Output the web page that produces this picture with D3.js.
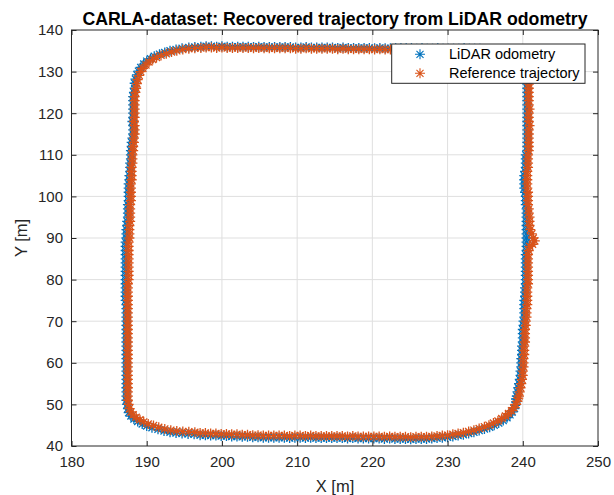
<!DOCTYPE html>
<html><head><meta charset="utf-8">
<script src="https://cdn.jsdelivr.net/npm/d3@7"></script>
<style>html,body{margin:0;padding:0;background:#fff;}svg{display:block;}</style>
</head><body>
<svg id="chart" width="614" height="495"></svg>
<script>
const titleText = "CARLA-dataset: Recovered trajectory from LiDAR odometry";
const xLabel = "X [m]";
const yLabel = "Y [m]";
const xTicks = [180,190,200,210,220,230,240,250];
const yTicks = [40,50,60,70,80,90,100,110,120,130,140];
const seriesNames = ["LiDAR odometry","Reference trajectory"];
const seriesColors = ["#0072BD","#D95319"];

const lidarPts = [
[240.5,88],[240.5,89],[240.5,90],[240.5,91],[240.5,92],[240.5,93],[240.5,94],[240.5,95],[240.5,96],[240.5,97],[240.4,98],[240.4,99],[240.4,100],[240.3,101],[240.2,102],[240.2,103],[240.2,104],[240.2,105],[240.3,106],[240.4,107],[240.4,108],[240.4,109],[240.4,110],[240.6,111],[240.6,112],[240.6,113],[240.6,114],[240.6,115],[240.6,116],[240.6,117],[240.6,118],[240.6,119],[240.6,120],[240.6,121],[240.6,122],[240.6,123],[240.6,124],[240.6,125],[240.6,126],[240.6,127],
[240.5,128],[240.4,129],[240.2,130],[239.9,131],[239.4,132],[238.8,133],[237.9,134],[236.9,134.8],[235.9,135.2],[234.9,135.4],
[234.3,135.5],[233.6,135.5],[232.9,135.5],[232.2,135.6],[231.5,135.5],[230.8,135.5],[230.1,135.5],[229.4,135.5],[228.7,135.6],[228.0,135.5],[227.3,135.5],[226.6,135.6],[225.9,135.5],[225.2,135.6],[224.5,135.6],[223.8,135.6],[223.1,135.6],[222.4,135.6],[221.7,135.6],[221.0,135.7],[220.3,135.6],[219.6,135.7],[218.9,135.7],[218.2,135.7],[217.5,135.7],[216.8,135.7],[216.1,135.8],[215.4,135.7],[214.7,135.8],[214.0,135.8],[213.3,135.8],[212.6,135.8],[211.9,135.8],[211.2,135.9],[210.5,135.8],[209.8,135.8],[209.1,135.9],[208.4,135.9],[207.7,135.9],[207.0,135.9],[206.3,135.9],[205.6,135.9],[204.9,136.0],[204.2,135.9],[203.5,136.0],[202.8,136.0],[202.1,136.0],[201.4,136.0],[200.7,136.0],[200.0,136.1],[199.3,136.0],[198.6,136.1],[197.9,136.1],
[197.2,136.0],[196.4,135.9],[195.6,135.8],[194.7,135.6],[193.9,135.3],[193.1,135.0],[192.4,134.6],[191.7,134.2],[191.0,133.7],[190.5,133.1],[190.0,132.5],[189.6,131.8],[189.2,131.0],[188.9,130.1],[188.7,129.2],[188.5,128.2],[188.4,127.2],
[188.4,126],[188.3,125],[188.2,124],[188.2,123],[188.2,122],[188.2,121],[188.2,120],[188.2,119],[188.1,118],[188.2,117],[188.2,116],[188.2,115],[188.1,114],[188.0,113],[188.0,112],[187.9,111],[187.9,110],[187.9,109],[187.8,108],[187.8,107],[187.8,106],[187.7,105],[187.7,104],[187.6,103],[187.6,102],[187.6,101],[187.6,100],[187.6,99],[187.5,98],[187.5,97],[187.5,96],[187.5,95],[187.4,94],[187.4,93],[187.3,92],[187.3,91],[187.3,90],[187.2,89],[187.2,88],[187.2,87],[187.2,86],[187.2,85],[187.2,84],[187.2,83],[187.2,82],[187.2,81],[187.2,80],[187.2,79],[187.2,78],[187.2,77],[187.2,76],[187.2,75],[187.3,74],[187.3,73],[187.3,72],[187.3,71],[187.3,70],[187.3,69],[187.3,68],[187.3,67],[187.3,66],[187.3,65],[187.3,64],[187.3,63],[187.3,62],[187.3,61],[187.3,60],[187.3,59],[187.3,58],[187.3,57],[187.3,56],[187.3,55],[187.3,54],[187.3,53],[187.3,52],[187.3,51],[187.4,50],[187.5,49],
[187.6,48.0],[187.9,47.2],[188.3,46.5],[188.8,45.9],[189.4,45.3],[190.0,44.8],[190.7,44.4],[191.5,44.0],[192.3,43.6],[193.1,43.3],[193.9,43.1],[194.7,43.0],[195.5,42.9],[196.3,42.8],
[197.1,42.6],[197.8,42.6],[198.5,42.5],[199.2,42.5],[199.9,42.4],[200.6,42.4],[201.3,42.3],[202.0,42.3],[202.7,42.2],[203.4,42.2],[204.1,42.1],[204.8,42.1],[205.5,42.0],[206.2,42.0],[206.9,42.0],[207.6,42.0],[208.3,42.0],[209.0,41.9],[209.7,42.0],[210.4,42.0],[211.1,41.9],[211.8,42.0],[212.5,41.9],[213.2,41.9],[213.9,41.9],[214.6,41.9],[215.3,41.9],[216.0,41.9],[216.7,41.8],[217.4,41.9],[218.1,41.8],[218.8,41.8],[219.5,41.8],[220.2,41.8],[220.9,41.8],[221.6,41.7],[222.3,41.8],[223.0,41.7],[223.7,41.7],[224.4,41.7],[225.1,41.6],[225.8,41.7],[226.5,41.7],[227.2,41.7],[227.9,41.8],[228.6,41.9],
[229.3,42.0],[230.0,42.1],[230.7,42.3],[231.4,42.5],[232.1,42.7],[232.8,43.0],[233.5,43.3],[234.2,43.7],[234.9,44.1],[235.6,44.5],[236.2,45.0],[236.8,45.5],[237.4,46.1],[237.9,46.8],[238.3,47.5],[238.6,48.2],[238.9,49.0],[239.0,49.8],[239.1,50.6],[239.1,51.3],
[239.2,52],[239.3,53],[239.4,54],[239.5,55],[239.6,56],[239.7,57],[239.7,58],[239.8,59],[239.8,60],[239.8,61],[239.9,62],[239.9,63],[239.9,64],[240.0,65],[240.0,66],[240.0,67],[240.0,68],[240.1,69],[240.1,70],[240.2,71],[240.2,72],[240.2,73],[240.2,74],[240.2,75],[240.3,76],[240.3,77],[240.3,78],[240.4,79],[240.4,80],[240.4,81],[240.4,82],[240.4,83],[240.4,84],[240.4,85],[240.4,86],[240.5,87]
];

const refPts = [
[241.3,88.5],[241.6,89.3],[241.4,90],[241.2,91],[241.0,92],[240.9,93],[240.9,94],[240.9,95],[240.8,96],[240.8,97],[240.7,98],[240.7,99],[240.7,100],[240.7,101],[240.6,102],[240.6,103],[240.6,104],[240.6,105],[240.6,106],[240.7,107],[240.7,108],[240.7,109],[240.7,110],[240.8,111],[240.8,112],[240.8,113],[240.8,114],[240.8,115],[240.8,116],[240.9,117],[240.8,118],[240.8,119],[240.8,120],[240.9,121],[240.8,122],[240.8,123],[240.8,124],[240.8,125],[240.8,126],[240.8,127],
[240.7,128],[240.6,129],[240.4,130],[240.1,131],[239.6,132],[238.9,133],[238.0,134],[237.0,134.6],[236.0,135.0],[235.0,135.2],
[234.3,135.2],[233.6,135.2],[232.9,135.2],[232.2,135.3],[231.5,135.2],[230.8,135.2],[230.1,135.2],[229.4,135.2],[228.7,135.3],[228.0,135.2],[227.3,135.2],[226.6,135.3],[225.9,135.2],[225.2,135.3],[224.5,135.3],[223.8,135.3],[223.1,135.3],[222.4,135.3],[221.7,135.3],[221.0,135.4],[220.3,135.3],[219.6,135.4],[218.9,135.4],[218.2,135.4],[217.5,135.4],[216.8,135.4],[216.1,135.5],[215.4,135.4],[214.7,135.5],[214.0,135.5],[213.3,135.5],[212.6,135.5],[211.9,135.5],[211.2,135.6],[210.5,135.5],[209.8,135.5],[209.1,135.6],[208.4,135.6],[207.7,135.6],[207.0,135.6],[206.3,135.6],[205.6,135.6],[204.9,135.7],[204.2,135.6],[203.5,135.7],[202.8,135.7],[202.1,135.7],[201.4,135.7],[200.7,135.7],[200.0,135.8],[199.3,135.7],[198.6,135.8],[197.9,135.8],
[197.2,135.7],[196.4,135.6],[195.6,135.5],[194.8,135.3],[194.0,135.0],[193.3,134.7],[192.6,134.3],[191.9,133.9],[191.3,133.4],[190.8,132.9],[190.3,132.3],[189.9,131.6],[189.5,130.8],[189.2,130.0],[189.0,129.1],[188.8,128.1],[188.7,127.1],
[188.6,126],[188.5,125],[188.4,124],[188.4,123],[188.4,122],[188.4,121],[188.4,120],[188.4,119],[188.3,118],[188.4,117],[188.4,116],[188.4,115],[188.3,114],[188.3,113],[188.2,112],[188.2,111],[188.1,110],[188.1,109],[188.1,108],[188.0,107],[188.0,106],[188.0,105],[188.0,104],[187.9,103],[187.9,102],[187.9,101],[187.9,100],[187.9,99],[187.8,98],[187.8,97],[187.8,96],[187.8,95],[187.8,94],[187.7,93],[187.7,92],[187.7,91],[187.7,90],[187.6,89],[187.6,88],[187.6,87],[187.6,86],[187.6,85],[187.6,84],[187.6,83],[187.6,82],[187.6,81],[187.6,80],[187.5,79],[187.5,78],[187.5,77],[187.5,76],[187.5,75],[187.5,74],[187.5,73],[187.5,72],[187.5,71],[187.5,70],[187.5,69],[187.5,68],[187.5,67],[187.5,66],[187.5,65],[187.5,64],[187.5,63],[187.5,62],[187.5,61],[187.5,60],[187.5,59],[187.5,58],[187.5,57],[187.5,56],[187.5,55],[187.5,54],[187.5,53],[187.5,52],[187.5,51],[187.6,50],[187.7,49],
[187.9,48.2],[188.2,47.5],[188.6,46.9],[189.1,46.3],[189.6,45.8],[190.2,45.3],[190.9,44.9],[191.6,44.5],[192.4,44.1],[193.2,43.8],[194.0,43.6],[194.8,43.5],[195.6,43.4],[196.4,43.3],
[197.1,43.1],[197.8,43.1],[198.5,43.0],[199.2,43.0],[199.9,42.9],[200.6,42.9],[201.3,42.8],[202.0,42.8],[202.7,42.7],[203.4,42.7],[204.1,42.6],[204.8,42.6],[205.5,42.5],[206.2,42.5],[206.9,42.5],[207.6,42.5],[208.3,42.5],[209.0,42.4],[209.7,42.5],[210.4,42.5],[211.1,42.4],[211.8,42.5],[212.5,42.4],[213.2,42.4],[213.9,42.4],[214.6,42.4],[215.3,42.4],[216.0,42.4],[216.7,42.3],[217.4,42.4],[218.1,42.3],[218.8,42.3],[219.5,42.3],[220.2,42.3],[220.9,42.3],[221.6,42.2],[222.3,42.3],[223.0,42.2],[223.7,42.2],[224.4,42.2],[225.1,42.1],[225.8,42.2],[226.5,42.2],[227.2,42.2],[227.9,42.3],[228.6,42.4],
[229.3,42.5],[230.0,42.6],[230.7,42.8],[231.4,43.0],[232.1,43.2],[232.8,43.5],[233.5,43.8],[234.2,44.2],[234.9,44.6],[235.5,45.0],[236.1,45.5],[236.7,46.0],[237.2,46.6],[237.7,47.2],[238.1,47.8],[238.5,48.5],[238.8,49.2],[239.1,50.0],[239.3,50.8],[239.4,51.5],
[239.5,52],[239.6,53],[239.7,54],[239.8,55],[239.9,56],[240.0,57],[240.0,58],[240.1,59],[240.1,60],[240.1,61],[240.2,62],[240.2,63],[240.2,64],[240.3,65],[240.3,66],[240.3,67],[240.3,68],[240.4,69],[240.4,70],[240.5,71],[240.5,72],[240.5,73],[240.6,74],[240.6,75],[240.6,76],[240.6,77],[240.6,78],[240.7,79],[240.7,80],[240.7,81],[240.7,82],[240.7,83],[240.7,84],[240.7,85],[240.7,86],[240.8,87],[240.9,88]
];

const svg = d3.select("#chart");
const L = 71.5, R = 598, T = 30, B = 446;
const x = d3.scaleLinear().domain([180,250]).range([L,R]);
const y = d3.scaleLinear().domain([40,140]).range([B,T]);
const axisColor = "#262626";
const font = "'Liberation Sans', Arial, Helvetica, sans-serif";

// grid
const grid = svg.append("g");
grid.selectAll("line.gx").data(xTicks.slice(1,-1)).join("line")
  .attr("x1",d=>x(d)).attr("x2",d=>x(d)).attr("y1",T).attr("y2",B)
  .attr("stroke","#dfdfdf").attr("stroke-width",1);
grid.selectAll("line.gy").data(yTicks.slice(1,-1)).join("line")
  .attr("y1",d=>y(d)).attr("y2",d=>y(d)).attr("x1",L).attr("x2",R)
  .attr("stroke","#dfdfdf").attr("stroke-width",1);

// markers
const r = 5, a = r*0.7071;
const star = `M${-r},0H${r}M0,${-r}V${r}M${-a},${-a}L${a},${a}M${-a},${a}L${a},${-a}`;
const plotG = svg.append("g");
[[lidarPts,0],[refPts,1]].forEach(([pts,i])=>{
  plotG.append("g").selectAll("path").data(pts).join("path")
    .attr("d",star)
    .attr("transform",d=>`translate(${x(d[0])},${y(d[1])})`)
    .attr("fill","none").attr("stroke",seriesColors[i]).attr("stroke-width",1.3);
});

// axes
function styleAxis(g){
  g.select(".domain").remove();
  g.selectAll(".tick line").attr("stroke",axisColor);
  g.selectAll(".tick text").attr("fill",axisColor).style("font-family",font).style("font-size","15px");
}
svg.append("g").attr("transform",`translate(0,${B})`)
  .call(d3.axisBottom(x).tickValues(xTicks).tickSize(-5).tickPadding(10.5).tickFormat(d3.format("d")))
  .call(styleAxis);
svg.append("g").attr("transform",`translate(0,${T})`)
  .call(d3.axisTop(x).tickValues(xTicks).tickSize(-5).tickFormat(""))
  .call(styleAxis);
svg.append("g").attr("transform",`translate(${L},0)`)
  .call(d3.axisLeft(y).tickValues(yTicks).tickSize(-5).tickPadding(8.5).tickFormat(d3.format("d")))
  .call(styleAxis);
svg.append("g").attr("transform",`translate(${R},0)`)
  .call(d3.axisRight(y).tickValues(yTicks).tickSize(-5).tickFormat(""))
  .call(styleAxis);

svg.append("rect").attr("x",L).attr("y",T).attr("width",R-L).attr("height",B-T)
  .attr("fill","none").attr("stroke",axisColor).attr("stroke-width",1);

// labels
svg.append("text").attr("x",335).attr("y",24.5).attr("text-anchor","middle")
  .style("font-family",font).style("font-size","17.7px").style("font-weight","bold")
  .attr("fill","#000").text(titleText);
svg.append("text").attr("x",335).attr("y",492).attr("text-anchor","middle")
  .style("font-family",font).style("font-size","16.5px").attr("fill",axisColor).text(xLabel);
svg.append("text").attr("transform","translate(27,238) rotate(-90)").attr("text-anchor","middle")
  .style("font-family",font).style("font-size","16.5px").attr("fill",axisColor).text(yLabel);

// legend
const lg = svg.append("g");
lg.append("rect").attr("x",391.7).attr("y",44).attr("width",193.3).attr("height",39.3)
  .attr("fill","#fff").attr("stroke",axisColor).attr("stroke-width",1);
seriesNames.forEach((n,i)=>{
  const cy = 54.3 + i*19;
  lg.append("path").attr("d",star).attr("transform",`translate(420,${cy})`)
    .attr("fill","none").attr("stroke",seriesColors[i]).attr("stroke-width",1.1);
  lg.append("text").attr("x",449).attr("y",cy).attr("dy","0.35em")
    .style("font-family",font).style("font-size","14.5px").attr("fill","#000").text(n);
});
</script>
</body></html>
